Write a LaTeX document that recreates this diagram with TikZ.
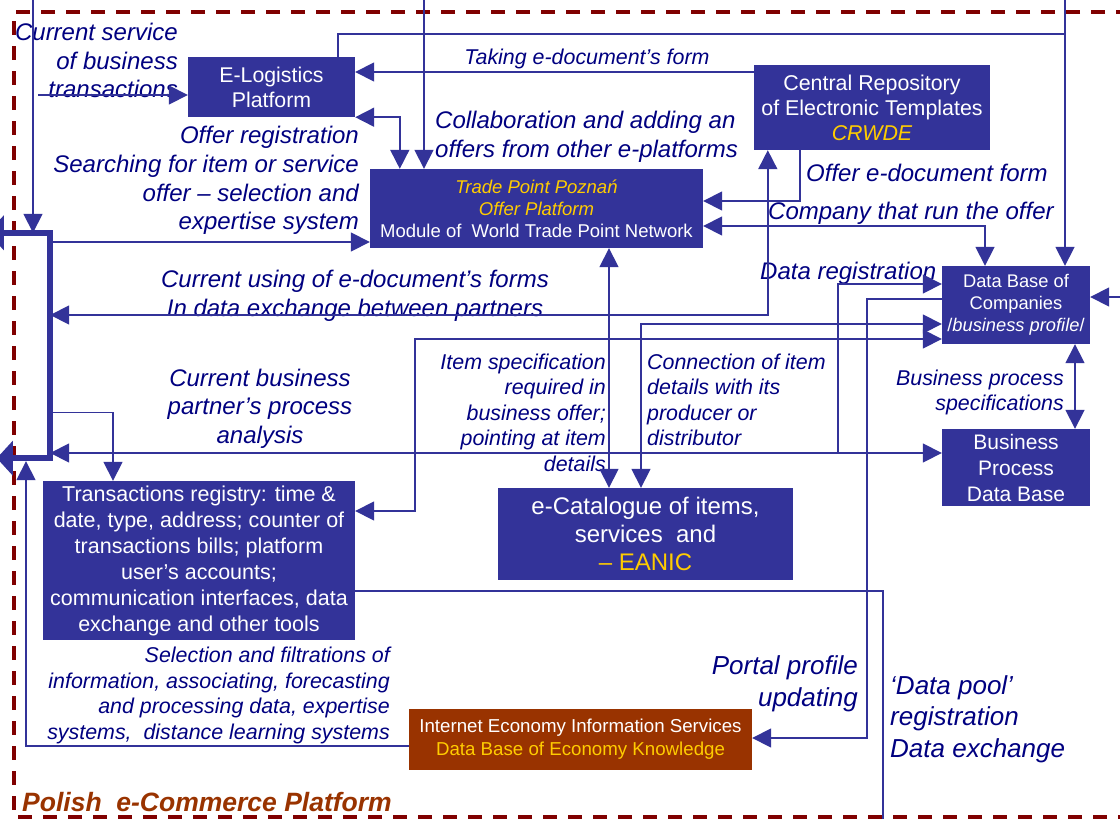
\documentclass[tikz,border=0pt]{standalone}
\usepackage{fontspec}
\setmainfont{Liberation Sans}
\usepackage{tikz}
\usetikzlibrary{arrows.meta, positioning, calc}
\definecolor{platblue}{HTML}{333399}
\definecolor{labelnavy}{HTML}{000080}
\definecolor{offeryellow}{HTML}{FFCC00}
\definecolor{knowbrown}{HTML}{993300}
\definecolor{borderred}{HTML}{800000}

\begin{document}
\begin{tikzpicture}[x=1pt, y=-1pt,
    box/.style={fill=platblue, text=white, align=center, inner sep=0pt},
    lbl/.style={text=labelnavy, font=\itshape\fontsize{24}{28.7}\selectfont, inner sep=0pt, yshift=-2.5pt},
    lblsmall/.style={text=labelnavy, font=\itshape\fontsize{21.4}{25.5}\selectfont, inner sep=0pt, yshift=-1.5pt},
    lblbig/.style={text=labelnavy, font=\itshape\fontsize{26}{31.5}\selectfont, inner sep=0pt, yshift=-2pt},
    wire/.style={draw=platblue, line width=1.7pt},
    conn/.style={wire, -{Triangle[length=19pt, width=19pt]}},
    dconn/.style={wire, {Triangle[length=19pt, width=19pt]}-{Triangle[length=19pt, width=19pt]}}]
    \useasboundingbox (0,0) rectangle (1120,819);

    % Platform border
    \draw[borderred, line width=3.5pt, dash pattern=on 14pt off 11pt]
        (1130,12) -- (14,12) -- (14,817) -- (1130,817);
    \node[text=knowbrown, font=\bfseries\itshape\fontsize{26.5}{30}\selectfont, anchor=west, inner sep=0pt] (lblPolish) at (22,802) {Polish \ e-Commerce Platform};

    % Platform modules
    \node[box, minimum width=167, minimum height=60, font=\fontsize{21.3}{25}\selectfont] (elog) at (271.5,87) {E-Logistics\\Platform};
    \node[box, minimum width=236, minimum height=85, font=\fontsize{21.4}{25}\selectfont] (crwde) at (872,107.5) {Central Repository\\of Electronic Templates\\{\color{offeryellow}\itshape CRWDE}};
    \node[box, minimum width=333, minimum height=79, font=\fontsize{18.5}{22}\selectfont] (tpp) at (536.5,208.5) {{\color{offeryellow}\itshape Trade Point Poznań}\\{\color{offeryellow}\itshape Offer Platform}\\Module of \ World Trade Point Network};
    \node[box, minimum width=148, minimum height=78, font=\fontsize{18.3}{22}\selectfont] (dbc) at (1016,305) {Data Base of\\Companies\\/\textit{business profile}/};
    \node[box, minimum width=148, minimum height=77, font=\fontsize{21}{26}\selectfont] (bpdb) at (1016,467.5) {Business\\Process\\Data Base};
    \node[box, minimum width=295, minimum height=92, font=\fontsize{24}{28}\selectfont] (ecat) at (645.5,534) {e-Catalogue of items,\\services \ and\\{\color{offeryellow}– EANIC}};
    \node[box, minimum width=312, minimum height=159, font=\fontsize{21.5}{26}\selectfont] (treg) at (199,560.5) {Transactions registry: time \&\\date, type, address; counter of\\transactions bills; platform\\user’s accounts;\\communication interfaces, data\\exchange and other tools};
    \node[box, fill=knowbrown, minimum width=343, minimum height=61, font=\fontsize{18.7}{23}\selectfont] (ieis) at (580.5,739.5) {Internet Economy Information Services\\{\color{offeryellow}Data Base of Economy Knowledge}};

    % Business partner (cut at the left edge)
    \node[minimum width=62, minimum height=225, inner sep=0pt] (user) at (19,345.5) {};
    \draw[platblue, line width=6pt, {Triangle[length=16pt, width=34pt]}-{Triangle[length=16pt, width=34pt]}]
        (user.north west) -- (user.north east) -- (user.south east) -- ([xshift=9pt]user.south west);

    % Labels
    \node[lbl, align=right, anchor=east] (lblService) at (178,58) {Current service\\of business\\transactions};
    \node[lblsmall] (lblTaking) at (587,57) {Taking e-document’s form};
    \node[lbl, align=right, anchor=east] (lblOffer) at (359,178) {Offer registration\\Searching for item or service\\offer – selection and\\expertise system};
    \node[lbl, align=left, anchor=west] (lblCollab) at (435,134) {Collaboration and adding an\\offers from other e-platforms};
    \node[lbl, anchor=west] (lblOfferForm) at (806,170) {Offer e-document form};
    \node[lbl, anchor=west] (lblCompany) at (768,211) {Company that run the offer};
    \node[lbl, anchor=west] (lblDataReg) at (760,271) {Data registration};
    \node[lbl, align=center] (lblUsing) at (355,293) {Current using of e-document’s forms\\In data exchange between partners};
    \node[lbl, align=center] (lblProcess) at (260,406) {Current business\\partner’s process\\analysis};
    \node[lblsmall, align=right, anchor=east] (lblItemSpec) at (606,411) {Item specification\\required in\\business offer;\\pointing at item\\details};
    \node[lblsmall, align=left, anchor=west] (lblConnect) at (647,398.5) {Connection of item\\details with its\\producer or\\distributor};
    \node[lblsmall, align=right, anchor=east] (lblBPSpec) at (1064,391) {Business process\\specifications};
    \node[lblsmall, align=right, anchor=east] (lblSelect) at (390,694) {Selection and filtrations of\\information, associating, forecasting\\and processing data, expertise\\systems, \ distance learning systems};
    \node[lblbig, align=right, anchor=east] (lblPortal) at (858,682) {Portal profile\\updating};
    \node[lblbig, align=left, anchor=west] (lblPool) at (890,717) {‘Data pool’\\registration\\Data exchange};

    % Free ends outside the platform
    \coordinate (inA) at (33,0);
    \coordinate (inB) at (424,0);
    \coordinate (inC) at (1065,0);
    \coordinate (inE) at (1120,297);
    \coordinate (srcB) at (38,95);
    \coordinate (outD) at (883,819);

    % Connections
    \draw[conn] (inA) -- (inA |- user.north);
    \draw[conn] (srcB) -- (srcB -| elog.west);
    \draw[conn] (inB) -- (inB |- tpp.north);
    \draw[conn] (inC) -- (inC |- dbc.north);
    \draw[wire] ([xshift=66.5pt]elog.north) |- ([yshift=-34pt]inC);
    \draw[conn] (inE) -- (inE -| dbc.east);
    \coordinate (takeA) at ([yshift=35.5pt]crwde.west);
    \draw[conn] (takeA) -- (takeA -| elog.east);
    \draw[dconn] (elog.south east) -| ([xshift=30pt]tpp.north west);
    \draw[dconn] ([xshift=14pt]crwde.south west) |- ([yshift=30.5pt]user.east);
    \draw[conn] ([xshift=46pt]crwde.south west) |- ([yshift=7.5pt]tpp.east);
    \draw[dconn] ([yshift=-17.5pt]tpp.east) -| ([xshift=-31pt]dbc.north);
    \coordinate (tpDown) at ([xshift=72.5pt]tpp.south);
    \draw[dconn] (tpDown) -- (tpDown |- ecat.north);
    \draw[dconn] ([xshift=-4.5pt]ecat.north) |- ([yshift=-19pt]dbc.west);
    \draw[dconn] ([yshift=49.5pt]treg.east) -- ++(60,0) |- ([yshift=-34pt]dbc.west);
    \coordinate (bpIn) at ([yshift=14.5pt]bpdb.west);
    \draw[dconn] (user.east |- bpIn) -- (bpIn);
    \draw[conn] ([xshift=-104pt]bpIn) |- ([yshift=21pt]dbc.west);
    \draw[conn] ([yshift=6pt]dbc.west) -- ++(-75,0) |- ([yshift=1.5pt]ieis.east);
    \draw[wire] ([yshift=-30.5pt]treg.east) -| (outD);
    \coordinate (bpSpec) at ([xshift=59pt]dbc.south);
    \draw[dconn] (bpSpec) -- (bpSpec |- bpdb.north);
    \coordinate (offIn) at ([yshift=-33.5pt]tpp.west);
    \draw[conn] (user.east |- offIn) -- (offIn);
    \draw[conn] ([yshift=-67pt]user.east) -| ([xshift=-86pt]treg.north);
    \draw[conn] ([yshift=-6.5pt]ieis.west) -| ([xshift=7pt, yshift=-3pt]user.south);
\end{tikzpicture}
\end{document}
